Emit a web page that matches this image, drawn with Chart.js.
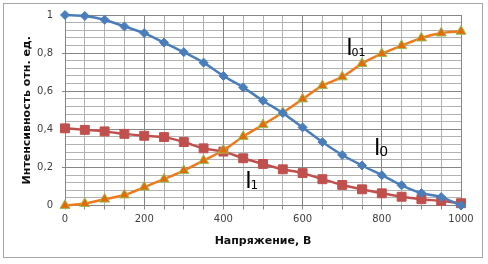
<!DOCTYPE html>
<html>
<head>
<meta charset="utf-8">
<script src="https://cdn.jsdelivr.net/npm/chart.js@4"></script>
<style>
  html, body { margin: 0; padding: 0; background: #fff; }
  #wrap { width: 488px; height: 264px; position: relative; }
</style>
</head>
<body>
<div id="wrap"><canvas id="chart"></canvas></div>
<script>
// Напряжение, В
const voltage = [0, 50, 100, 150, 200, 250, 300, 350, 400, 450, 500, 550, 600, 650, 700, 750, 800, 850, 900, 950, 1000];

// I0
const intensity0 = [1.0, 0.995, 0.975, 0.94, 0.905, 0.855, 0.805, 0.75, 0.68, 0.62, 0.55, 0.485, 0.41, 0.333, 0.265, 0.21, 0.159, 0.106, 0.065, 0.044, 0.0];
// I1
const intensity1 = [0.405, 0.397, 0.389, 0.376, 0.366, 0.359, 0.333, 0.30, 0.283, 0.248, 0.218, 0.19, 0.17, 0.138, 0.108, 0.085, 0.064, 0.046, 0.033, 0.024, 0.012];
// I01
const intensity01 = [0, 0.01, 0.033, 0.055, 0.096, 0.138, 0.183, 0.236, 0.29, 0.362, 0.424, 0.488, 0.559, 0.629, 0.675, 0.745, 0.797, 0.839, 0.879, 0.905, 0.914];

// curve labels, placed in data coordinates
const curveLabels = [
    { main: 'I', sub: '01', x: 710, y: 0.792, subSize: 11 },
    { main: 'I', sub: '0', x: 780, y: 0.266, subSize: 14 },
    { main: 'I', sub: '1', x: 455, y: 0.092, subSize: 12 }
];

const xMajorLabels = [0, 200, 400, 600, 800, 1000];
const yMajorLabels = [0, 0.2, 0.4, 0.6, 0.8, 1];

// minor gridlines: every 50 V and every 0.04 (majors left out)
const xMinor = voltage.filter((v) => v % 200 !== 0);
const yMinor = [];
for (let i = 1; i < 25; i++) {
    if (i % 5 !== 0) yMinor.push(Math.round(i * 4) / 100);
}

const majorColor = 'rgb(134,134,134)';
const minorColor = 'rgb(178,178,178)';

function toPoints(values) {
    return voltage.map((v, i) => ({ x: v, y: values[i] }));
}

function fixedTicks(list) {
    return (scale) => { scale.ticks = list.map((v) => ({ value: v })); };
}

const frame = {
    id: 'frame',
    beforeDraw(chart) {
        let ctx = chart.ctx;
        ctx.save();
        ctx.strokeStyle = '#a6a6a6';
        ctx.lineWidth = 1;
        ctx.strokeRect(3.5, 3.5, 479, 254);
        ctx.restore();
    }
};

const labelsPlugin = {
    id: 'curveLabels',
    afterDatasetsDraw(chart) {
        let ctx = chart.ctx;
        let xs = chart.scales.x;
        let ys = chart.scales.y;
        ctx.save();
        ctx.fillStyle = '#000';
        ctx.textBaseline = 'alphabetic';
        ctx.textAlign = 'left';
        curveLabels.forEach((l) => {
            let px = xs.getPixelForValue(l.x);
            let py = ys.getPixelForValue(l.y);
            ctx.font = '23px "Liberation Sans"';
            ctx.fillText(l.main, px, py);
            let w = ctx.measureText(l.main).width;
            ctx.font = l.subSize + 'px "DejaVu Sans"';
            ctx.fillText(l.sub, px + w - 1, py + 1);
        });
        ctx.restore();
    }
};

let ctx = document.getElementById('chart').getContext('2d');

const config = {
    type: 'line',
    data: {
        datasets: [
            {
                label: 'I0',
                data: toPoints(intensity0),
                borderColor: '#4a7ebb',
                backgroundColor: '#4a7ebb',
                borderWidth: 2.5,
                pointStyle: 'rectRot',
                pointRadius: 4.5,
                pointBorderWidth: 1,
                tension: 0.3,
                clip: false
            },
            {
                label: 'I01',
                data: toPoints(intensity01),
                borderColor: '#f07a1a',
                backgroundColor: '#e36c09',
                pointBorderColor: '#9bbb59',
                borderWidth: 2.5,
                pointStyle: 'triangle',
                pointRadius: 5.8,
                pointBorderWidth: 1,
                tension: 0.3,
                clip: false
            },
            {
                label: 'I1',
                data: toPoints(intensity1),
                borderColor: '#c0504d',
                backgroundColor: '#c0504d',
                borderWidth: 2.5,
                pointStyle: 'rect',
                pointRadius: 6.3,
                pointBorderWidth: 1,
                tension: 0.3,
                clip: false
            }
        ]
    },
    options: {
        responsive: true,
        maintainAspectRatio: false,
        animation: false,
        layout: {
            padding: { left: 0, right: 27, top: 15, bottom: 0 }
        },
        plugins: {
            legend: { display: false },
            tooltip: { enabled: false }
        },
        scales: {
            // grid-only axes for the light minor lines
            xMinorGrid: {
                type: 'linear',
                position: 'bottom',
                weight: -1,
                min: 0,
                max: 1000,
                afterBuildTicks: fixedTicks(xMinor),
                afterFit: (scale) => { scale.height = 0; },
                border: { display: false },
                grid: { color: minorColor, lineWidth: 1, tickColor: majorColor, tickLength: 4 },
                ticks: { display: false, autoSkip: false }
            },
            yMinorGrid: {
                type: 'linear',
                position: 'right',
                min: 0,
                max: 1,
                afterBuildTicks: fixedTicks(yMinor),
                afterFit: (scale) => { scale.width = 0; },
                border: { display: false },
                grid: { color: minorColor, lineWidth: 1, drawTicks: false },
                ticks: { display: false, autoSkip: false }
            },
            x: {
                type: 'linear',
                position: 'bottom',
                min: 0,
                max: 1000,
                afterBuildTicks: fixedTicks(xMajorLabels),
                afterFit: (scale) => { scale.height = 58.5; },
                border: { color: majorColor },
                grid: { color: majorColor, lineWidth: 1, tickColor: majorColor, tickLength: 4 },
                ticks: {
                    autoSkip: false,
                    maxRotation: 0,
                    padding: 4,
                    color: '#404040',
                    font: { family: '"DejaVu Sans"', size: 10 },
                    callback: (v) => String(v)
                },
                title: {
                    display: true,
                    text: 'Напряжение, В',
                    color: '#111',
                    font: { family: '"DejaVu Sans"', size: 11, weight: 'bold' },
                    padding: { top: 0, bottom: 16 }
                }
            },
            y: {
                position: 'left',
                min: 0,
                max: 1,
                afterBuildTicks: fixedTicks(yMajorLabels),
                afterFit: (scale) => { scale.width = 65; },
                border: { color: majorColor },
                grid: { color: majorColor, lineWidth: 1, tickColor: majorColor, tickLength: 3 },
                ticks: {
                    autoSkip: false,
                    padding: 9,
                    color: '#404040',
                    font: { family: '"DejaVu Sans"', size: 10 },
                    callback: (v) => String(Math.round(v * 10) / 10).replace('.', ',')
                },
                title: {
                    display: true,
                    text: 'Интенсивность отн. ед.',
                    color: '#111',
                    font: { family: '"DejaVu Sans"', size: 11, weight: 'bold' },
                    padding: { top: 21, bottom: 0 }
                }
            }
        }
    },
    plugins: [frame, labelsPlugin]
};

const chart = new Chart(ctx, config);
</script>
</body>
</html>
